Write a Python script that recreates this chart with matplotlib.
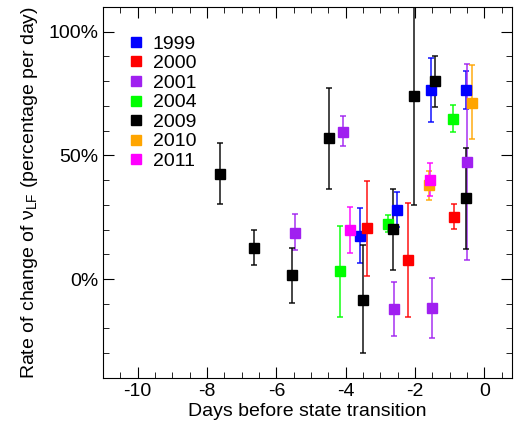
import numpy as np
import matplotlib
matplotlib.use('Agg')
from matplotlib import pyplot as plt
from matplotlib.ticker import MultipleLocator, FuncFormatter

plt.rcParams['font.family'] = ['Liberation Sans', 'DejaVu Sans']
plt.rcParams['mathtext.fontset'] = 'custom'
plt.rcParams['mathtext.rm'] = 'Liberation Sans'
plt.rcParams['axes.unicode_minus'] = False

years = ['1999', '2000', '2001', '2004', '2009', '2010', '2011']
colors = ['#0000ff', '#ff0000', '#a020f0', '#00ff00', '#000000', '#ffa500', '#ff00ff']

# days, rate (%), lower end of error bar, upper end of error bar
x1999 = [-3.6, -2.51, -1.54, -0.53]
y1999 = [17.5, 28.0, 76.5, 76.2]
lo1999 = [6.4, 21.2, 63.6, 68.7]
hi1999 = [28.6, 35.0, 89.4, 84.0]

x2000 = [-3.39, -2.2, -0.87]
y2000 = [20.8, 7.7, 25.2]
lo2000 = [1.2, -15.3, 20.1]
hi2000 = [39.8, 30.6, 30.2]

x2001 = [-5.46, -4.08, -2.61, -1.51, -0.5]
y2001 = [18.7, 59.6, -12.1, -11.6, 47.5]
lo2001 = [11.7, 53.6, -23.0, -23.8, 7.7]
hi2001 = [26.2, 65.7, -1.1, 0.5, 87.0]

x2004 = [-4.16, -2.78, -0.9]
y2004 = [3.2, 22.4, 64.8]
lo2004 = [-15.3, 18.9, 59.6]
hi2004 = [21.6, 25.9, 70.2]

x2009 = [-7.63, -6.65, -5.55, -4.48, -3.5, -2.63, -2.02, -1.42, -0.52]
y2009 = [42.6, 12.6, 1.6, 57.0, -8.5, 20.2, 74.0, 80.0, 32.8]
lo2009 = [30.4, 5.7, -9.7, 36.4, -30.0, 3.6, 30.0, 69.5, 12.3]
hi2009 = [55.0, 19.8, 12.6, 77.3, 13.8, 36.4, 130.0, 90.0, 53.0]

x2010 = [-1.6, -0.35]
y2010 = [37.8, 71.3]
lo2010 = [32.0, 56.7]
hi2010 = [43.8, 86.4]

x2011 = [-3.87, -1.56]
y2011 = [19.8, 40.2]
lo2011 = [10.6, 33.5]
hi2011 = [29.3, 46.7]

series = [(x1999, y1999, lo1999, hi1999), (x2000, y2000, lo2000, hi2000),
          (x2001, y2001, lo2001, hi2001), (x2004, y2004, lo2004, hi2004),
          (x2009, y2009, lo2009, hi2009), (x2010, y2010, lo2010, hi2010),
          (x2011, y2011, lo2011, hi2011)]

fig = plt.figure(figsize=(5.23, 4.3), dpi=100)
ax = fig.add_axes([0.197, 0.121, 0.782, 0.863])

for (x, y, lo, hi), c, yr in zip(series, colors, years):
    y = np.array(y)
    yerr = [y - np.array(lo), np.array(hi) - y]
    ax.errorbar(x, y, yerr=yerr, fmt='none', ecolor=c, elinewidth=1.2,
                capsize=2.5, capthick=1.2, alpha=0.85)
    ax.plot(x, y, 's', color=c, markersize=6.5, label=yr, zorder=3)

ax.set_xlim(-11, 0.8)
ax.set_ylim(-40, 110)
ax.xaxis.set_major_locator(MultipleLocator(2))
ax.xaxis.set_minor_locator(MultipleLocator(0.5))
ax.yaxis.set_major_locator(MultipleLocator(50))
ax.yaxis.set_minor_locator(MultipleLocator(10))
ax.yaxis.set_major_formatter(FuncFormatter(lambda v, p: '%d%%' % v))
ax.tick_params(which='both', direction='in', top=True, right=True, labelsize=14)
ax.tick_params(which='major', length=8)
ax.tick_params(which='minor', length=4)

ax.set_xlabel('Days before state transition', fontsize=14, labelpad=2)
ax.set_ylabel(r'Rate of change of ν$_{\rm LF}$ (percentage per day)', fontsize=14, labelpad=6)

leg = ax.legend(loc='upper left', bbox_to_anchor=(0.045, 0.945), frameon=False,
                fontsize=14, handlelength=0.7, handletextpad=0.5,
                labelspacing=0.1, markerscale=1.2, borderaxespad=0)

fig.savefig('out.png', dpi=100)
